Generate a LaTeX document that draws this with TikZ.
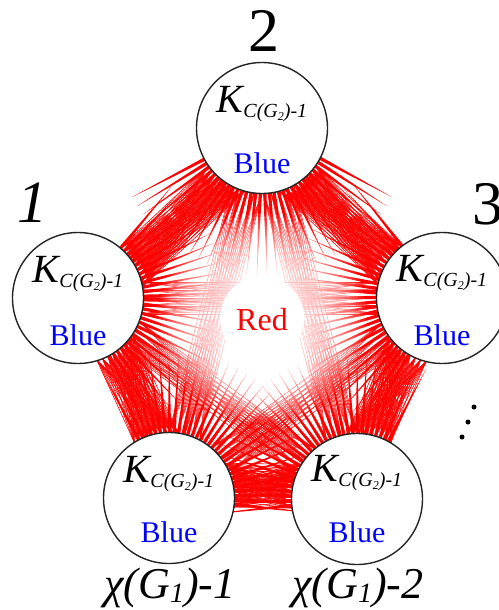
\documentclass[tikz,border=0pt]{standalone}
\usepackage{fontspec}
\setmainfont{Liberation Serif}
\usetikzlibrary{calc}
\pgfdeclarelayer{bg}
\pgfsetlayers{bg,main}
\begin{document}
\begin{tikzpicture}[x=1pt,y=-1pt,
  ring/.style={circle,draw=black!85,line width=1.4pt,fill=white,minimum size=131pt,inner sep=0pt,outer sep=0pt},
  redline/.style={red,line width=0.6pt},
  spike/.style={fill=red,draw=none},
  ktext/.style={anchor=base,inner sep=0pt,font=\fontsize{40}{40}\selectfont\itshape},
  bluetext/.style={anchor=base,inner sep=0pt,text=blue,font=\fontsize{30}{30}\selectfont},
  numlabel/.style={anchor=base,inner sep=0pt,font=\fontsize{62}{62}\selectfont},
  chilabel/.style={anchor=base,inner sep=0pt,font=\fontsize{44}{44}\selectfont\itshape},
  dotmark/.style={circle,fill=black,inner sep=0pt,minimum size=5pt}]
\useasboundingbox (0,0) rectangle (498,610);
\newcommand{\kcg}{K\raisebox{-5pt}{\fontsize{20}{20}\selectfont C(G\raisebox{-3pt}{\fontsize{12}{12}\selectfont 2})-1}}
\newcommand{\chig}[1]{χ(G\raisebox{-4pt}{\fontsize{28}{28}\selectfont 1})-#1}

% circles
\node[ring] (n1) at (78,298) {};
\node[ring] (n2) at (262,128) {};
\node[ring] (n3) at (442,298) {};
\node[ring] (n4) at (357,499) {};
\node[ring] (n5) at (169,498) {};

% texts in circles
\node[ktext] (k1) at (78,282) {\kcg};
\node[ktext] (k2) at (262,112) {\kcg};
\node[ktext] (k3) at (442,281) {\kcg};
\node[ktext] (k4) at (357,481) {\kcg};
\node[ktext] (k5) at (169,482) {\kcg};
\node[bluetext] (b1) at (78,345) {Blue};
\node[bluetext] (b2) at (262,173) {Blue};
\node[bluetext] (b3) at (442,345) {Blue};
\node[bluetext] (b4) at (357,542) {Blue};
\node[bluetext] (b5) at (169,542) {Blue};

% labels
\node[numlabel,font=\fontsize{60}{60}\selectfont\itshape] (l1) at (32,222) {1};
\node[numlabel] (l2) at (264,52) {2};
\node[numlabel] (l3) at (488,224) {3};
\node[chilabel] (l5) at (170,598) {\chig{1}};
\node[chilabel] (l4) at (358,598) {\chig{2}};

% vertical-ish ellipsis
\node[dotmark] (d1) at (474,407) {};
\node[dotmark] (d2) at (468,422) {};
\node[dotmark] (d3) at (462,437) {};

\node[anchor=base,inner sep=0pt,text=red,font=\fontsize{32}{32}\selectfont] (redtxt) at (262,330) {Red};

\begin{pgfonlayer}{bg}
\fill[white] (0,0) rectangle (498,610);
% adjacent pairs: crossing mesh
\foreach \i/\j/\a/\b in {n1/n2/42.7/-137.3, n2/n3/-43.4/136.6, n3/n4/-112.8/67.2, n4/n5/180/0, n5/n1/114.2/-65.8}{
  \foreach \p in {-8,-3,...,35}{
    \foreach \q in {-8,-3,...,35}{
      \pgfmathsetmacro\aa{\a-\p}
      \pgfmathsetmacro\bb{\b+\q}
      \draw[redline] (\i.\aa) -- (\j.\bb);
    }
  }
}
% non-adjacent pairs
\foreach \i/\j/\a/\b in {n1/n3/0/180, n1/n4/-35.9/144.1, n2/n4/-75.7/104.3, n2/n5/-104/76, n3/n5/-143.5/36.5}{
  \foreach \p in {-14,-7,...,14}{
    \foreach \q in {-14,-7,...,14}{
      \pgfmathsetmacro\aa{\a+\p}
      \pgfmathsetmacro\bb{\b+\q}
      \draw[redline,line width=0.5pt] (\i.\aa) -- (\j.\bb);
    }
  }
}
% radial spikes
\foreach \n/\s/\e in {n1/-62/52, n2/-152/-28, n3/128/242, n4/62/186, n5/-6/118}{
  \pgfmathsetmacro\st{\s+4}
  \foreach \t in {\s,\st,...,\e}{
    \pgfmathsetmacro\ta{\t-1.6}
    \pgfmathsetmacro\tb{\t+1.6}
    \fill[spike] (\n.\ta) -- ($(\n.center)!2.25!(\n.\t)$) -- (\n.\tb) -- cycle;
  }
}
% white glow in the middle
\coordinate (ctr) at (262,318);
\foreach \r in {44,47,...,104}{
  \fill[white,opacity=0.08] (ctr) circle[radius=\r];
}
\fill[white] (ctr) circle[radius=42];
\end{pgfonlayer}
\end{tikzpicture}
\end{document}
